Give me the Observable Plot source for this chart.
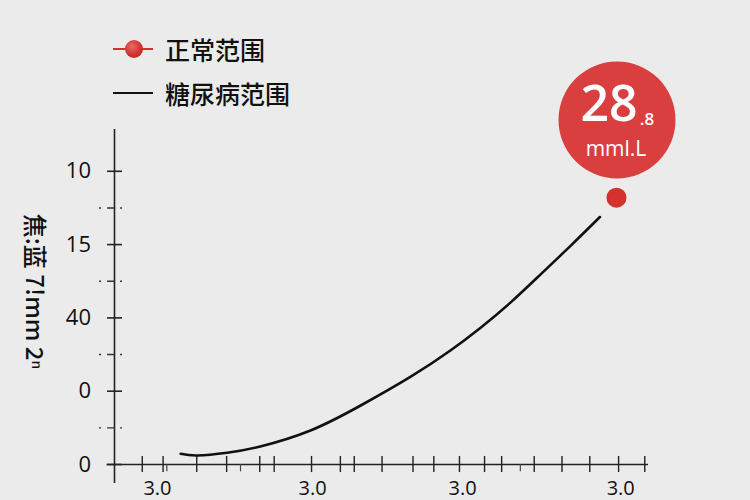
<!DOCTYPE html>
<html>
<head>
<meta charset="utf-8">
<script src="https://cdn.jsdelivr.net/npm/d3@7"></script>
<script src="https://cdn.jsdelivr.net/npm/@observablehq/plot@0.6"></script>
<style>
  html, body { margin: 0; padding: 0; background: #ebebeb; }
  #wrap { position: relative; width: 750px; height: 500px; overflow: hidden; background: #ebebeb;
          font-family: "Noto Sans CJK SC", Roboto, sans-serif; }
  #legend { position: absolute; left: 113px; top: 27px; color: #111; }
  .item { position: relative; height: 44px; display: flex; align-items: center; }
  .sw { position: relative; width: 40px; height: 20px; margin-right: 12px; }
  .sw .ln { position: absolute; left: 0; right: 0; top: 9px; height: 2px; }
  .sw .dt { position: absolute; left: 12px; top: 1px; width: 18px; height: 18px; border-radius: 50%;
            background: radial-gradient(circle at 40% 35%, #e66a64 0%, #d2302d 55%, #b52422 100%); }
  .lab { font-size: 25px; line-height: 1; font-weight: 500; }
</style>
</head>
<body>
<div id="wrap">
  <div id="legend"></div>
</div>
<script>
// ---- data ----
const seriesNames = ["正常范围", "糖尿病范围"];
const seriesColors = ["#d3322f", "#111111"];

const curveX = [12.4, 15.5, 21.1, 27.3, 36.7, 46.1, 55.4, 62.9, 68.5, 74.2, 79.8, 85.4, 90.9];
const curveY = [0.146, 0.123, 0.160, 0.246, 0.464, 0.805, 1.195, 1.556, 1.863, 2.212, 2.594, 2.983, 3.376];

const pointX = [94.0];
const pointY = [3.64];

const bubbleX = [94.1];
const bubbleY = [4.70];
const bubbleMain = ["28"];
const bubbleDecimal = [".8"];
const bubbleUnit = ["mml.L"];

const yTickValues = [0, 1, 2, 3, 4];
const yTickLabels = ["0", "0", "40", "15", "10"];
const yMinorTicks = [0.5, 1.5, 2.5, 3.5];
const yTitle = "焦:蓝 7!mm 2ⁿ";

const xMajorTicks = [5.2, 9.1, 15.4, 21.0, 27.2, 29.9, 36.9, 42.3, 44.9, 50.1, 55.9, 59.8, 64.6, 69.3, 72.5, 78.6, 83.8, 89.0, 94.4, 99.3];
const xMinorTicks = [9.8, 23.6, 76.0];
const xLabelValues = [8.05, 37.1, 65.2, 94.8];
const xTickLabels = ["3.0", "3.0", "3.0", "3.0"];

// ---- build ----
const curve = curveX.map((x, i) => ({x, y: curveY[i]}));
const pts = pointX.map((x, i) => ({x, y: pointY[i]}));
const bubble = bubbleX.map((x, i) => ({x, y: bubbleY[i], main: bubbleMain[i], dec: bubbleDecimal[i], unit: bubbleUnit[i]}));
const yT = yTickValues.map((v, i) => ({v, label: yTickLabels[i]}));
const xL = xLabelValues.map((v, i) => ({v, label: xTickLabels[i]}));

const numFont = "'Open Sans', Roboto, sans-serif";

const chart = Plot.plot({
  width: 750,
  height: 500,
  marginLeft: 114,
  marginRight: 102,
  marginTop: 129,
  marginBottom: 36,
  x: {domain: [0, 100], axis: null},
  y: {domain: [0, 4.57], axis: null},
  style: {background: "transparent", overflow: "visible", fontFamily: numFont},
  marks: [
    // axes lines
    Plot.ruleX([0], {y1: -0.26, y2: 4.57, stroke: "#222", strokeWidth: 1.6}),
    Plot.ruleY([0], {x1: -1.4, x2: 100, stroke: "#222", strokeWidth: 1.6}),
    // y ticks
    Plot.ruleY(yTickValues, {x1: -1.3, x2: 1.5, stroke: "#222", strokeWidth: 1.6}),
    Plot.ruleY(yMinorTicks, {x1: -2.8, x2: 1.5, stroke: "#333", strokeWidth: 1.4, strokeDasharray: "2 6 8 5 2"}),
    Plot.text(yT, {x: -4.4, y: "v", text: "label", textAnchor: "end", fontSize: 22, fill: "#111"}),
    Plot.text([yTitle], {x: -15.2, y: 2.36, text: d => d, rotate: 90, fontSize: 24, fontWeight: 500, fill: "#111",
      fontFamily: "'Noto Sans CJK SC', sans-serif"}),
    // x ticks
    Plot.ruleX(xMajorTicks, {y1: -0.11, y2: 0.11, stroke: "#222", strokeWidth: 1.4}),
    Plot.ruleX(xMinorTicks, {y1: -0.1, y2: 0.0, stroke: "#444", strokeWidth: 1.2}),
    Plot.text(xL, {x: "v", y: -0.41, text: "label", lineAnchor: "bottom", fontSize: 20, fill: "#111"}),
    // curve
    Plot.line(curve, {x: "x", y: "y", curve: "natural", stroke: seriesColors[1], strokeWidth: 2.6}),
    // point
    Plot.dot(pts, {x: "x", y: "y", r: 10, fill: seriesColors[0]}),
    // bubble
    Plot.dot(bubble, {x: "x", y: "y", r: 58.5, fill: "#da3f3f"}),
    Plot.text(bubble, {x: "x", y: "y", text: "main", dx: -8, dy: -15, fontSize: 50, fontWeight: 600, fill: "#fff"}),
    Plot.text(bubble, {x: "x", y: "y", text: "dec", dx: 30, dy: 0, fontSize: 17, fontWeight: 600, fill: "#fff"}),
    Plot.text(bubble, {x: "x", y: "y", text: "unit", dx: -1, dy: 29, fontSize: 21, fontWeight: 500, fill: "#fff"})
  ]
});
document.getElementById("wrap").appendChild(chart);

// legend
const legend = document.getElementById("legend");
seriesNames.forEach((name, i) => {
  const item = document.createElement("div");
  item.className = "item";
  const sw = document.createElement("div");
  sw.className = "sw";
  const ln = document.createElement("div");
  ln.className = "ln";
  ln.style.background = seriesColors[i];
  sw.appendChild(ln);
  if (i === 0) {
    const dt = document.createElement("div");
    dt.className = "dt";
    sw.appendChild(dt);
  }
  const lab = document.createElement("div");
  lab.className = "lab";
  lab.textContent = name;
  item.appendChild(sw);
  item.appendChild(lab);
  legend.appendChild(item);
});
</script>
</body>
</html>
